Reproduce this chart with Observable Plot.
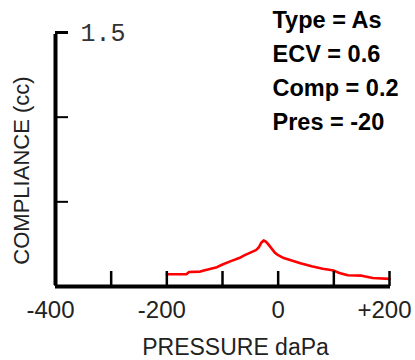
<!DOCTYPE html>
<html>
<head>
<meta charset="utf-8">
<script src="https://cdn.jsdelivr.net/npm/d3@7"></script>
<script src="https://cdn.jsdelivr.net/npm/@observablehq/plot@0.6"></script>
<style>
  html, body { margin: 0; padding: 0; background: #fff; }
</style>
</head>
<body>
<div id="chart"></div>
<script>
const pressure = [-200, -165, -160, -140, -130, -110, -100, -85, -70, -60, -50, -40, -35, -30, -26, -22, -18, -12, -6, 0, 10, 20, 40, 60, 80, 100, 110, 125, 150, 170, 200];
const compliance = [0.072, 0.072, 0.086, 0.088, 0.098, 0.114, 0.13, 0.15, 0.168, 0.185, 0.2, 0.215, 0.23, 0.26, 0.272, 0.265, 0.25, 0.225, 0.2, 0.185, 0.168, 0.158, 0.138, 0.12, 0.105, 0.094, 0.08, 0.066, 0.064, 0.05, 0.045];
const xTickValues = [-400, -300, -200, -100, 0, 100, 200];
const xLabelValues = [-400, -200, 0, 200];
const xLabelTexts = ["-400", "-200", "0", "+200"];
const yTickValues = [0.5, 1.0];
const yTopTick = [1.5];
const yTopLabel = ["1.5"];
const infoLines = ["Type = As", "ECV = 0.6", "Comp = 0.2", "Pres = -20"];
const xTitle = "PRESSURE daPa";
const yTitle = "COMPLIANCE (cc)";

const curve = pressure.map((p, i) => ({p, c: compliance[i]}));
const xLabels = xLabelValues.map((v, i) => ({v, t: xLabelTexts[i]}));
const sans = "Liberation Sans, Arial, sans-serif";

const chart = Plot.plot({
  width: 415,
  height: 360,
  marginLeft: 55,
  marginRight: 26,
  marginTop: 32,
  marginBottom: 74,
  x: {domain: [-400, 200], axis: null},
  y: {domain: [0, 1.5], axis: null},
  style: {background: "#fff", overflow: "visible", fontFamily: sans},
  marks: [
    // curve
    Plot.line(curve, {x: "p", y: "c", stroke: "#ff0000", strokeWidth: 2.6}),
    // x ticks (pointing up)
    Plot.ruleX(xTickValues, {x: d => d, y1: 0, y2: 0, insetTop: -15, stroke: "#000", strokeWidth: 2.5}),
    // y ticks (pointing right)
    Plot.ruleY(yTickValues, {y: d => d, x1: -400, x2: -400, insetLeft: 2, insetRight: -13, stroke: "#000", strokeWidth: 2}),
    Plot.ruleY(yTopTick, {y: d => d, x1: -400, x2: -400, insetLeft: 0, insetRight: -13, stroke: "#000", strokeWidth: 3}),
    // axis lines
    Plot.ruleX([-400], {x: d => d, y1: 0, y2: 1.5, insetTop: -1, insetBottom: -2, stroke: "#000", strokeWidth: 4}),
    Plot.ruleY([0], {y: d => d, x1: -400, x2: 200, insetRight: -1, stroke: "#000", strokeWidth: 4}),
    // top y label
    Plot.text(yTopTick, {y: d => d, text: (d, i) => yTopLabel[i], frameAnchor: "left", dx: 25, textAnchor: "start", lineAnchor: "middle", fontSize: 25, fontFamily: "Liberation Mono, Courier New, monospace", fill: "#333"}),
    // x tick labels
    Plot.text(xLabels.filter(d => d.v !== 0), {x: "v", text: "t", frameAnchor: "bottom", lineAnchor: "bottom", dy: 31, dx: -5, fontSize: 24, fill: "#222"}),
    Plot.text(xLabels.filter(d => d.v === 0), {x: "v", text: "t", frameAnchor: "bottom", lineAnchor: "bottom", dy: 31, fontSize: 24, fill: "#222"}),
    // axis titles
    Plot.text([xTitle], {text: d => d, frameAnchor: "bottom", lineAnchor: "bottom", dx: 13, dy: 68, fontSize: 23, fill: "#222"}),
    Plot.text([yTitle], {text: d => d, frameAnchor: "left", textAnchor: "middle", rotate: -90, lineAnchor: "middle", dx: -34, dy: 11, fontSize: 22, fill: "#222"}),
    // info block
    Plot.text([infoLines.join("\n")], {text: d => d, frameAnchor: "top-left", textAnchor: "start", lineAnchor: "top", dx: 217, dy: -29, lineHeight: 1.45, fontSize: 23.5, fontWeight: "bold", fill: "#000"})
  ]
});
document.getElementById("chart").appendChild(chart);
</script>
</body>
</html>
